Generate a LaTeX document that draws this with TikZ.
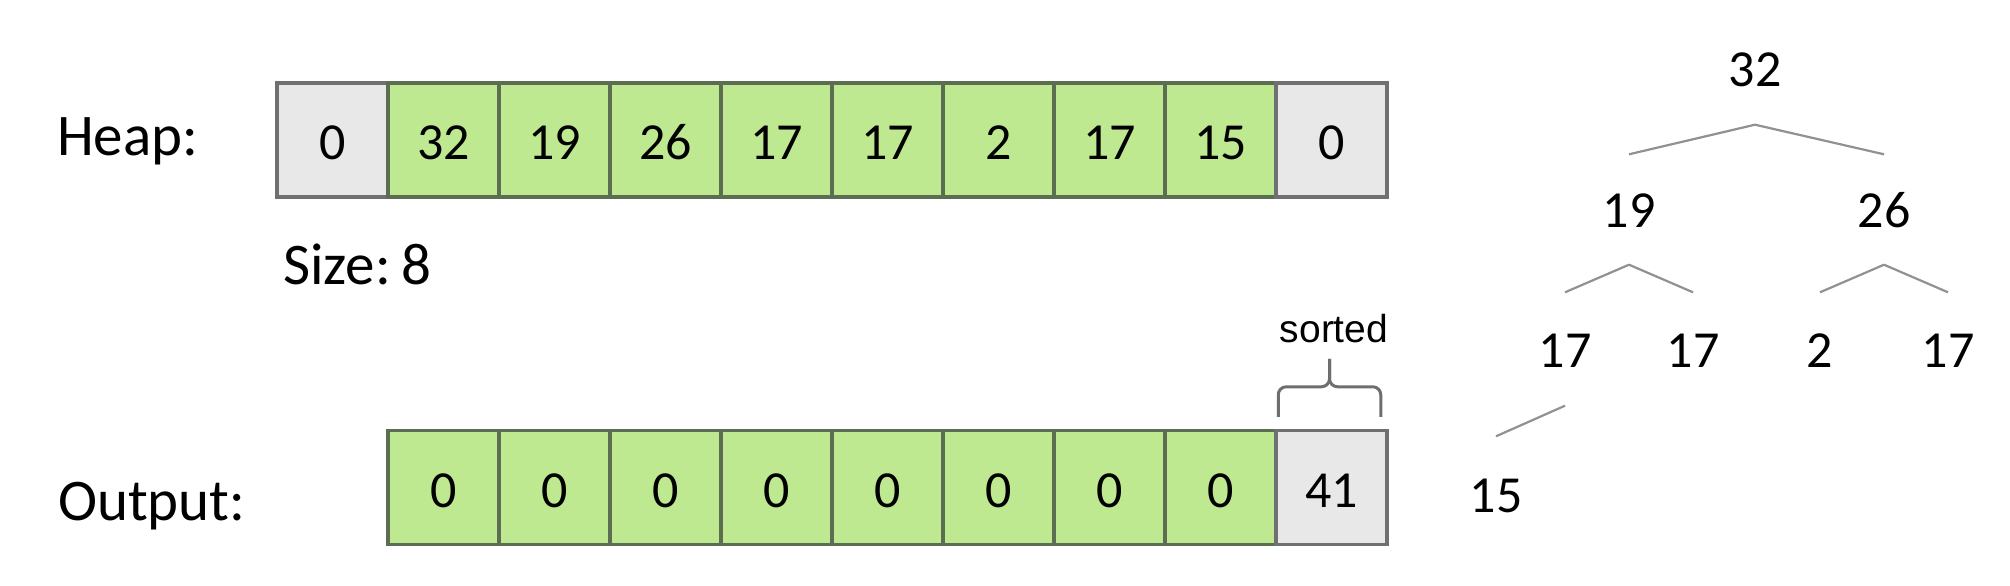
\documentclass[tikz,border=0pt]{standalone}
\usepackage{fontspec}
\setmainfont{Carlito}
\newfontfamily\arialfont{Liberation Sans}
\usetikzlibrary{calc}
\definecolor{cellgreen}{RGB}{190,233,145}
\definecolor{greenedge}{RGB}{92,110,82}
\definecolor{cellgray}{RGB}{232,232,232}
\definecolor{grayedge}{RGB}{112,112,112}
\definecolor{treeline}{RGB}{145,145,145}
\definecolor{bracecol}{RGB}{110,110,110}
\begin{document}
\begin{tikzpicture}[x=1pt,y=-1pt,
  cellbase/.style={rectangle, minimum width=111pt, minimum height=114pt, line width=3.5pt,
    inner sep=0pt, text height=39pt, text depth=0pt, font=\fontsize{52}{60}\selectfont},
  greencell/.style={cellbase, fill=cellgreen, draw=greenedge},
  graycell/.style={cellbase, fill=cellgray, draw=grayedge},
  lbltext/.style={inner sep=0pt, anchor=base west, font=\fontsize{59}{70}\selectfont},
  treenum/.style={inner sep=0pt, text height=33pt, text depth=0pt, font=\fontsize{52}{60}\selectfont},
  treeedge/.style={draw=treeline, line width=2.2pt},
  bracestyle/.style={draw=bracecol, line width=3pt, rounded corners=8pt}
]
\useasboundingbox (0,0) rectangle (2010,586);

% labels
\node[lbltext] (heaplbl) at (57,155) {Heap:};
\node[lbltext] (sizelbl) at (283,284) {Size:\kern11pt8};
\node[lbltext] (outlbl) at (58,520) {Output:};

% heap array
\node[graycell] (h0) at (332.5,140) {0};
\foreach \v [count=\i] in {32,19,26,17,17,2,17,15}
  \node[greencell] (h\i) at (332.5+111*\i,140) {\v};
\node[graycell] (h9) at (1331.5,140) {0};

% output array
\foreach \i in {0,...,7}
  \node[greencell] (o\i) at (443.5+111*\i,487.5) {0};
\node[graycell] (o8) at (1331.5,487.5) {41};

% brace + sorted
\draw[bracestyle] ($(o8.north west)+(4,-12)$) -- ++(0,-30) -- ($(o8.north)+(-2,-42)$) -- ++(0,-28);
\draw[bracestyle] ($(o8.north east)+(-8,-12)$) -- ++(0,-30) -- ($(o8.north)+(-2,-42)$) -- ++(0,-28);
\node[inner sep=0pt, anchor=base, font=\arialfont\fontsize{39}{45}\selectfont] (sortedlbl) at (1334,342) {sorted};

% tree
\node[treenum] (t1) at (1755,70) {32};
\node[treenum] (t2) at (1629,211) {19};
\node[treenum] (t3) at (1884,211) {26};
\node[treenum] (t4) at (1565,351) {17};
\node[treenum] (t5) at (1693,351) {17};
\node[treenum] (t6) at (1820,351) {2};
\node[treenum] (t7) at (1948,351) {17};
\node[treenum] (t8) at (1496,496) {15};

\draw[treeedge] ($(t1.south)+(0,38)$) -- ($(t2.north)+(0,-40)$);
\draw[treeedge] ($(t1.south)+(0,38)$) -- ($(t3.north)+(0,-40)$);
\draw[treeedge] ($(t2.south)+(0,37)$) -- ($(t4.north)+(0,-42)$);
\draw[treeedge] ($(t2.south)+(0,37)$) -- ($(t5.north)+(0,-42)$);
\draw[treeedge] ($(t3.south)+(0,37)$) -- ($(t6.north)+(0,-42)$);
\draw[treeedge] ($(t3.south)+(0,37)$) -- ($(t7.north)+(0,-42)$);
\draw[treeedge] ($(t4.south)+(0,38)$) -- ($(t8.north)+(0,-43)$);
\end{tikzpicture}
\end{document}
